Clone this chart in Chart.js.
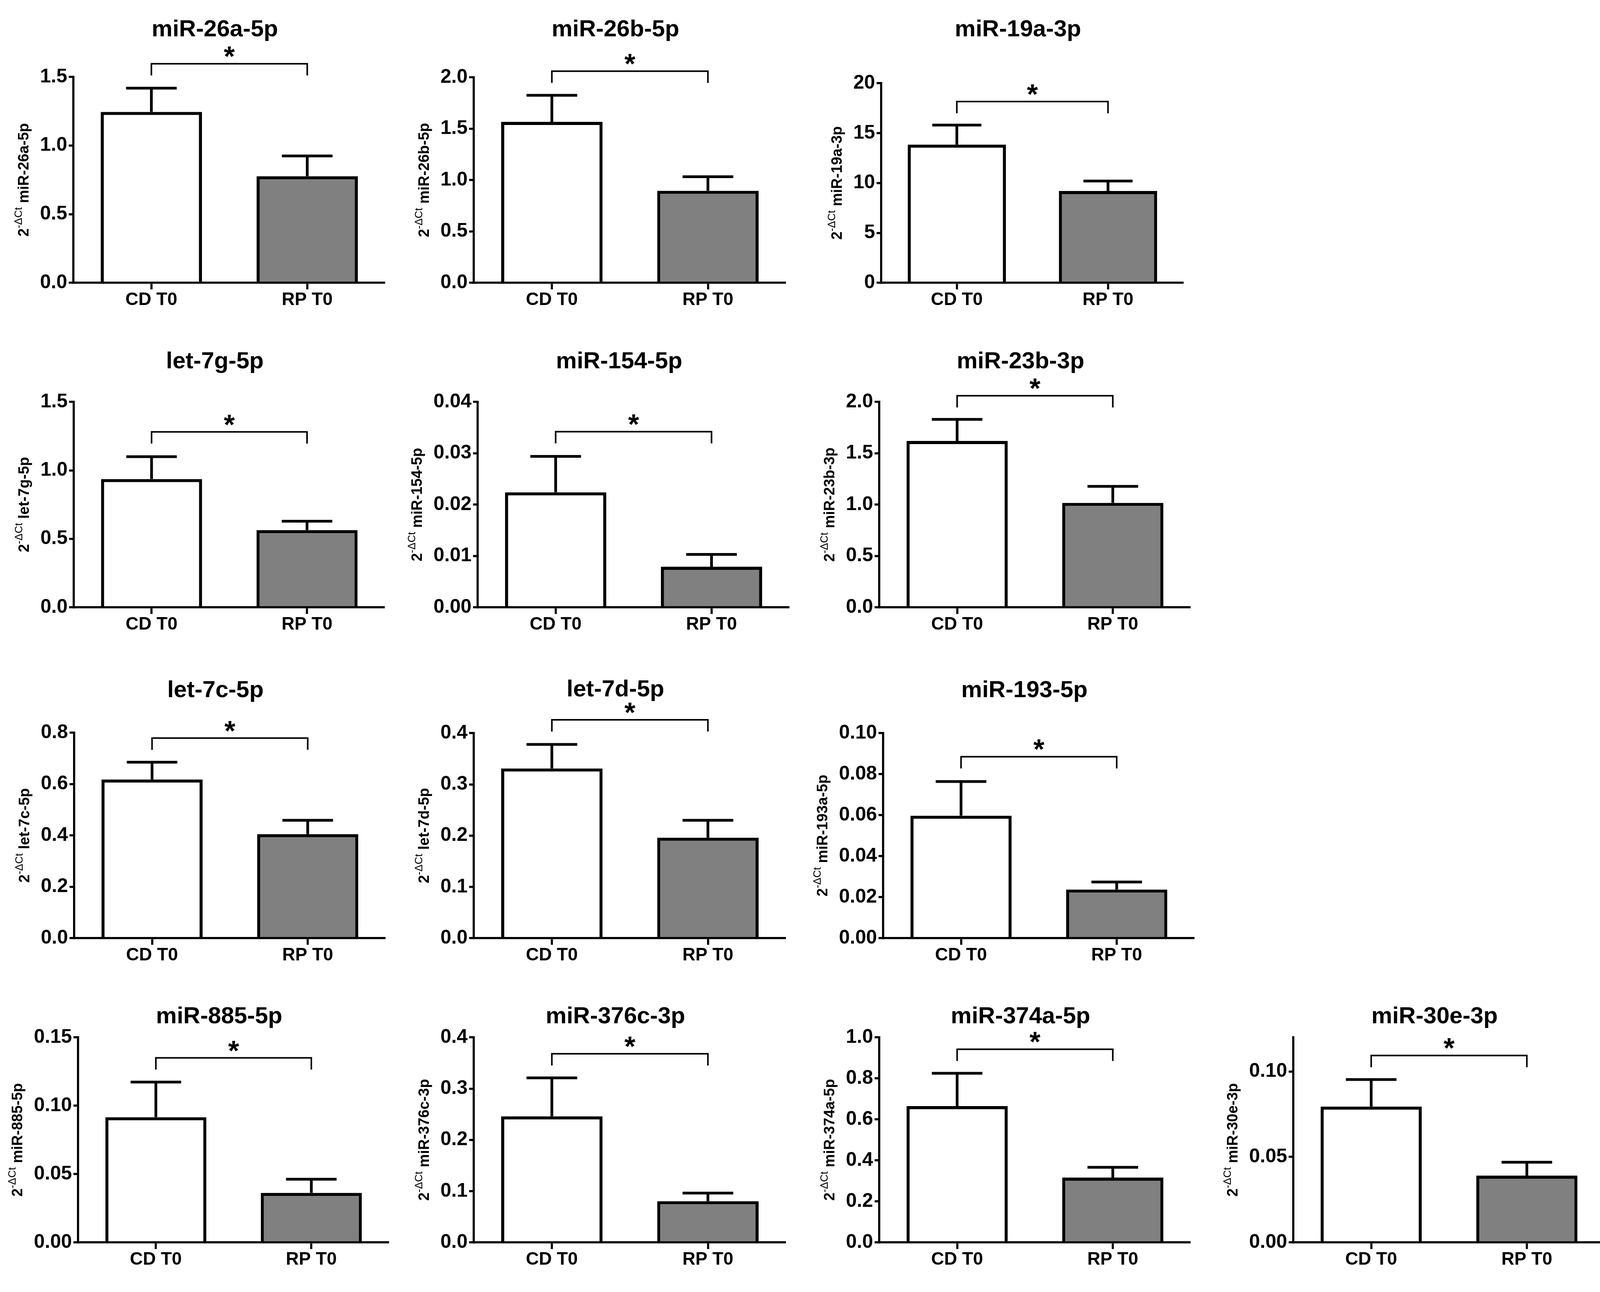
<!DOCTYPE html>
<html>
<head>
<meta charset="utf-8">
<title>miRNA levels, CD T0 vs RP T0</title>
<script src="https://cdn.jsdelivr.net/npm/chart.js@4.4.1/dist/chart.umd.min.js"></script>
<style>
  html, body { margin: 0; padding: 0; background: #fff; overflow: hidden; }
  body { width: 4137px; height: 3308px; position: relative; }
  .panel { position: absolute; }
</style>
</head>
<body>
<script>
// groups on the x axis
const groups = ["CD T0", "RP T0"];

// one entry per panel, left to right, top to bottom
const titles = ["miR-26a-5p", "miR-26b-5p", "miR-19a-3p",
  "let-7g-5p", "miR-154-5p", "miR-23b-3p",
  "let-7c-5p", "let-7d-5p", "miR-193-5p",
  "miR-885-5p", "miR-376c-3p", "miR-374a-5p", "miR-30e-3p"];
const yNames = ["miR-26a-5p", "miR-26b-5p", "miR-19a-3p",
  "let-7g-5p", "miR-154-5p", "miR-23b-3p",
  "let-7c-5p", "let-7d-5p", "miR-193a-5p",
  "miR-885-5p", "miR-376c-3p", "miR-374a-5p", "miR-30e-3p"];

// bar heights and upper end of the error bars
const cdMean = [1.245, 1.567, 13.85, 0.937, 0.0224, 1.62, 0.618, 0.331, 0.0597, 0.0916, 0.246, 0.665, 0.0795];
const cdTop  = [1.418, 1.825, 15.8, 1.10, 0.0294, 1.83, 0.685, 0.378, 0.0764, 0.1173, 0.321, 0.825, 0.0953];
const rpMean = [0.776, 0.895, 9.2, 0.564, 0.0079, 1.017, 0.405, 0.196, 0.0237, 0.0362, 0.0804, 0.316, 0.0391];
const rpTop  = [0.924, 1.032, 10.2, 0.629, 0.0103, 1.178, 0.459, 0.230, 0.0274, 0.0462, 0.0961, 0.366, 0.0469];

// significance bracket level and mark
const sigLevel = [1.596, 2.06, 18.16, 1.281, 0.0342, 2.06, 0.779, 0.426, 0.0885, 0.135, 0.368, 0.942, 0.1094];
const sigMark = ["*", "*", "*", "*", "*", "*", "*", "*", "*", "*", "*", "*", "*"];

// y axis ticks
const yMax = [1.5, 2.0, 20, 1.5, 0.04, 2.0, 0.8, 0.4, 0.10, 0.15, 0.4, 1.0, 0.12];
const yStep = [0.5, 0.5, 5, 0.5, 0.01, 0.5, 0.2, 0.1, 0.02, 0.05, 0.1, 0.2, 0.05];
const yDecimals = [1, 1, 0, 1, 2, 1, 1, 1, 2, 2, 1, 1, 2];

// page layout: [axis x, axis width, axis top, zero line y, title y]
const boxes = [
  [188, 798, 197, 724, 76], [1213, 799, 198, 724, 76], [2256, 774, 213, 724, 76],
  [189, 796, 1029, 1555, 926], [1223, 798, 1029, 1555, 926], [2251, 797, 1029, 1555, 926],
  [190, 797, 1876, 2402, 1768], [1213, 799, 1877, 2402, 1766], [2261, 797, 1877, 2402, 1768],
  [200, 796, 2656, 3181, 2603], [1213, 799, 2656, 3181, 2603], [2251, 797, 2656, 3181, 2603],
  [3311, 797, 2656, 3181, 2603]
];

const FONT = "'Liberation Sans', Arial, Helvetica, sans-serif";
const Y_W = 190;          // fixed width of the y scale box
const X_H = 90;           // fixed height of the x scale box
const TITLE_SHIFT = -37;  // titles sit a little left of the axis centre
const TICK_SIZE = 50;
const LINE = 5.5;

Chart.defaults.font.family = FONT;
Chart.defaults.color = "#000";

const panelTitle = {
  id: "panelTitle",
  afterDraw(chart, args, opts) {
    const { ctx, chartArea } = chart;
    ctx.save();
    ctx.fillStyle = "#000";
    ctx.font = "bold 60px " + FONT;
    ctx.textAlign = "center";
    ctx.textBaseline = "middle";
    ctx.fillText(opts.text, (chartArea.left + chartArea.right) / 2 + TITLE_SHIFT, opts.y);
    ctx.restore();
  }
};

const errorBars = {
  id: "errorBars",
  afterDatasetsDraw(chart) {
    const ctx = chart.ctx;
    const y = chart.scales.y;
    ctx.save();
    ctx.strokeStyle = "#000";
    ctx.lineWidth = 7;
    chart.data.datasets.forEach((ds, di) => {
      chart.getDatasetMeta(di).data.forEach((bar, i) => {
        const top = y.getPixelForValue(ds.errTop[i]);
        const half = bar.width / 4;
        ctx.beginPath();
        ctx.moveTo(bar.x, bar.y);
        ctx.lineTo(bar.x, top);
        ctx.moveTo(bar.x - half, top);
        ctx.lineTo(bar.x + half, top);
        ctx.stroke();
      });
    });
    ctx.restore();
  }
};

const sigBracket = {
  id: "sigBracket",
  afterDraw(chart, args, opts) {
    const ctx = chart.ctx;
    const bars = chart.getDatasetMeta(0).data;
    const x1 = bars[0].x, x2 = bars[1].x;
    const yb = chart.scales.y.getPixelForValue(opts.level);
    ctx.save();
    ctx.strokeStyle = "#000";
    ctx.lineWidth = 4;
    ctx.lineJoin = "miter";
    ctx.beginPath();
    ctx.moveTo(x1, yb + 30);
    ctx.lineTo(x1, yb);
    ctx.lineTo(x2, yb);
    ctx.lineTo(x2, yb + 30);
    ctx.stroke();
    ctx.fillStyle = "#000";
    ctx.font = "bold 72px " + FONT;
    ctx.textAlign = "center";
    ctx.textBaseline = "alphabetic";
    ctx.fillText(opts.mark, (x1 + x2) / 2, yb + 6);
    ctx.restore();
  }
};

// rotated y title: 2 with a -ΔCt superscript, then the miRNA name
const yTitle = {
  id: "yTitle",
  afterDraw(chart, args, opts) {
    const ctx = chart.ctx;
    const area = chart.chartArea;
    const sc = chart.scales.y;
    ctx.save();
    ctx.font = "bold " + TICK_SIZE + "px " + FONT;
    let tickW = 0;
    sc.ticks.forEach(t => { tickW = Math.max(tickW, ctx.measureText(t.label).width); });
    const cx = area.left - 16 - tickW - 40;
    const cy = (area.top + area.bottom) / 2;
    const parts = [
      { t: "2", f: "bold 38px " + FONT, dy: 0 },
      { t: "-\u0394Ct", f: "27px " + FONT, dy: -14 },
      { t: " " + opts.name, f: "bold 38px " + FONT, dy: 0 }
    ];
    let total = 0;
    parts.forEach(p => { ctx.font = p.f; p.w = ctx.measureText(p.t).width; total += p.w; });
    ctx.translate(cx, cy);
    ctx.rotate(-Math.PI / 2);
    ctx.fillStyle = "#000";
    ctx.textBaseline = "middle";
    ctx.textAlign = "left";
    let x = -total / 2;
    parts.forEach(p => {
      ctx.font = p.f;
      ctx.fillText(p.t, x, p.dy);
      x += p.w;
    });
    ctx.restore();
  }
};

function makePanel(i) {
  const [ax, aw, top, zero, ty] = boxes[i];
  const left = ax - Y_W;
  const width = Y_W + aw;
  const canvasTop = ty - 50;
  const height = (zero - canvasTop) + X_H;

  const div = document.createElement("div");
  div.className = "panel";
  div.style.left = left + "px";
  div.style.top = canvasTop + "px";
  div.style.width = width + "px";
  div.style.height = height + "px";
  const canvas = document.createElement("canvas");
  div.appendChild(canvas);
  document.body.appendChild(div);

  const step = yStep[i];
  new Chart(canvas.getContext("2d"), {
    type: "bar",
    data: {
      labels: groups,
      datasets: [{
        data: [cdMean[i], rpMean[i]],
        errTop: [cdTop[i], rpTop[i]],
        backgroundColor: ["#ffffff", "#808080"],
        borderColor: "#000",
        borderWidth: 8,
        barPercentage: 0.65,
        categoryPercentage: 1.0
      }]
    },
    options: {
      responsive: true,
      maintainAspectRatio: false,
      animation: false,
      events: [],
      layout: { padding: { left: 0, right: 0, top: top - canvasTop, bottom: 0 } },
      plugins: {
        legend: { display: false },
        tooltip: { enabled: false },
        title: { display: false },
        panelTitle: { text: titles[i], y: ty - canvasTop },
        sigBracket: { level: sigLevel[i], mark: sigMark[i] },
        yTitle: { name: yNames[i] }
      },
      scales: {
        x: {
          offset: true,
          grid: { display: true, drawOnChartArea: false, drawTicks: true, tickLength: 17,
                  offset: false, color: "#000", lineWidth: LINE },
          border: { display: true, color: "#000", width: LINE },
          ticks: { color: "#000", font: { size: 46, weight: "bold" }, padding: 0, maxRotation: 0 },
          afterFit(s) { s.height = X_H; }
        },
        y: {
          type: "linear",
          min: 0,
          max: yMax[i],
          grid: { display: true, drawOnChartArea: false, drawTicks: true, tickLength: 12,
                  color: "#000", lineWidth: LINE },
          border: { display: true, color: "#000", width: LINE },
          ticks: {
            stepSize: step,
            color: "#000",
            padding: 4,
            font: { size: TICK_SIZE, weight: "bold" },
            callback: v => Number(v).toFixed(yDecimals[i])
          },
          afterBuildTicks(s) {
            s.ticks = s.ticks.filter(t => Math.abs(t.value / step - Math.round(t.value / step)) < 1e-6);
          },
          afterFit(s) { s.width = Y_W; }
        }
      }
    },
    plugins: [errorBars, sigBracket, yTitle, panelTitle]
  });
}

for (let i = 0; i < titles.length; i++) makePanel(i);
</script>
</body>
</html>
